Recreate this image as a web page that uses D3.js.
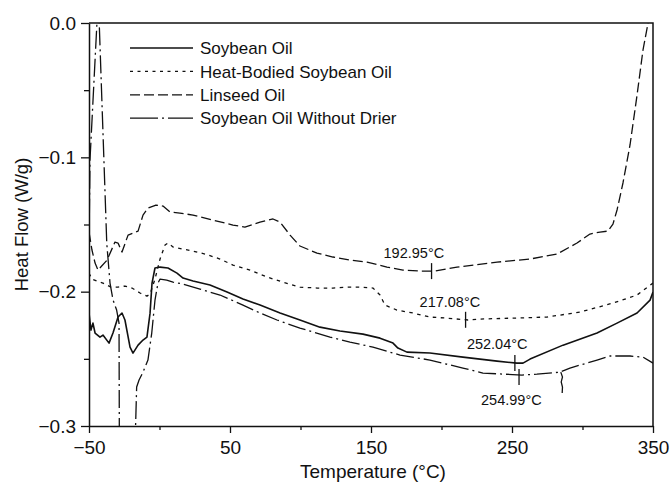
<!DOCTYPE html>
<html>
<head>
<meta charset="utf-8">
<script src="https://cdn.jsdelivr.net/npm/d3@7"></script>
<style>
  html, body { margin: 0; padding: 0; background: #fff; }
  svg { display: block; font-family: "Liberation Sans", Arial, Helvetica, sans-serif; }
</style>
</head>
<body>
<svg id="chart" width="672" height="483"></svg>
<script>
// DSC traces: [temperature (°C), heat flow (W/g)]
const soybeanOil = [
  [-50, -0.216], [-48.6, -0.2286], [-47.2, -0.2234], [-45.7, -0.2308], [-42.2, -0.2338],
  [-40.1, -0.2323], [-35.8, -0.2383], [-33.0, -0.2308], [-29.4, -0.2189], [-26.6, -0.2159],
  [-24.5, -0.2211], [-20.9, -0.2413], [-18.8, -0.2457], [-15.2, -0.2398], [-11.7, -0.2360],
  [-8.9, -0.2338], [-6.7, -0.216], [-5.3, -0.1936], [-3.2, -0.1824], [0.4, -0.1817],
  [6.0, -0.1824], [12.4, -0.1862], [16.7, -0.1899], [23.8, -0.1921], [35.8, -0.1951],
  [47.9, -0.2003], [59.2, -0.2055], [71.3, -0.2100], [85.5, -0.2159], [99.6, -0.2211],
  [113.8, -0.2264], [128.0, -0.2293], [144.3, -0.2316], [156.4, -0.2346], [165.6, -0.2383],
  [169.1, -0.2420], [175.5, -0.2450], [191.8, -0.2457], [215.2, -0.2487], [239.4, -0.2517],
  [253.5, -0.2532], [257.8, -0.2532], [262.8, -0.2502], [286.2, -0.2398], [310.3, -0.2308],
  [324.5, -0.2234], [338.7, -0.2159], [347.9, -0.2063], [350, -0.2003]
];

const heatBodiedSoybeanOil = [
  [-50, -0.1862], [-47.9, -0.1906], [-44.3, -0.1921], [-40.1, -0.1936], [-34.4, -0.1966],
  [-29.4, -0.1966], [-24.5, -0.1958], [-19.5, -0.1973], [-13.8, -0.2010], [-8.9, -0.2033],
  [-6.7, -0.2018], [-3.2, -0.1906], [0.4, -0.1757], [3.9, -0.1653], [6.0, -0.1638],
  [9.6, -0.1668], [16.7, -0.1683], [23.8, -0.1698], [32.3, -0.1720], [42.9, -0.1757],
  [52.1, -0.1802], [64.2, -0.1839], [76.2, -0.1891], [87.6, -0.1929], [99.6, -0.1966],
  [111.7, -0.1973], [123.0, -0.1973], [135.1, -0.1966], [142.2, -0.1966], [151.4, -0.1973],
  [156.4, -0.2025], [159.9, -0.2100], [168.4, -0.2137], [179.8, -0.2159], [191.8, -0.2189],
  [203.9, -0.2197], [218.8, -0.2211], [227.3, -0.2204], [250.7, -0.2197], [274.8, -0.2189],
  [298.2, -0.2152], [321.6, -0.2085], [338.7, -0.2025], [350, -0.1936]
];

const linseedOil = [
  [-50, -0.1556], [-47.9, -0.1690], [-45.7, -0.1787], [-43.6, -0.1839], [-37.2, -0.1765],
  [-31.6, -0.1631], [-29.4, -0.1638], [-26.6, -0.1705], [-22.3, -0.1579], [-15.2, -0.1549],
  [-11.7, -0.1430], [-8.2, -0.1378], [-2.5, -0.1355], [2.5, -0.1363], [7.4, -0.1407],
  [14.5, -0.1415], [23.8, -0.1430], [37.9, -0.1467], [52.1, -0.1504], [60.6, -0.1519],
  [71.3, -0.1482], [80.5, -0.1459], [85.5, -0.1482], [92.6, -0.1579], [99.6, -0.1660],
  [111.7, -0.1713], [123.0, -0.1742], [135.1, -0.1765], [147.2, -0.1780], [161.3, -0.1817],
  [172.7, -0.1839], [184.8, -0.1847], [195.4, -0.1847], [211.0, -0.1817], [239.4, -0.1780],
  [262.8, -0.1757], [282.0, -0.1720], [296.1, -0.1638], [305.3, -0.1571], [312.4, -0.1556],
  [318.1, -0.1549], [321.6, -0.1497], [324.5, -0.1392], [328.7, -0.1191], [333.7, -0.0908],
  [338.7, -0.0536], [342.9, -0.0201], [346.5, 0.0], [347.5, 0.006]
];

const soybeanOilWithoutDrier = [
  [-50, -0.165], [-49.3, -0.102], [-43.4, 0.02], [-37.4, -0.164], [-35.1, -0.1936],
  [-33.0, -0.2060], [-30.4, -0.2137], [-28.7, -0.2234], [-28.5, -0.3010], [-28.4, -0.32],
  [-17.5, -0.32], [-16.2, -0.2710], [-14.5, -0.2658], [-11.7, -0.2599], [-8.2, -0.2509],
  [-5.5, -0.2308], [-3.2, -0.2063], [-1.1, -0.1936], [0.4, -0.1906], [5.1, -0.1914],
  [9.6, -0.1929], [16.7, -0.1943], [28.7, -0.1981], [42.9, -0.2025], [59.2, -0.2100],
  [71.3, -0.2159], [83.3, -0.2211], [99.6, -0.2271], [120.9, -0.2338], [135.1, -0.2375],
  [151.4, -0.2413], [170.6, -0.2472], [191.8, -0.2509], [215.2, -0.2569], [229.4, -0.2606],
  [257.1, -0.2621], [267.7, -0.2614], [284.0, -0.2599], [291.1, -0.2569], [310.3, -0.2509],
  [319.5, -0.2479], [333.7, -0.2479], [342.9, -0.2487], [350, -0.2532]
];

// small step marker on the no-drier trace
const stepMark = [
  [284.6, -0.2599], [285.8, -0.2635], [284.9, -0.2672], [285.8, -0.2710], [285.6, -0.2755]
];

const seriesNames = [
  "Soybean Oil",
  "Heat-Bodied Soybean Oil",
  "Linseed Oil",
  "Soybean Oil Without Drier"
];

// transition temperatures (°C) and the trace each belongs to
const transitionTemps = [192.95, 217.08, 252.04, 254.99];
const transitionSeries = [2, 1, 0, 3];

const xMajorTicks = [-50, 50, 150, 250, 350];
const xMinorTicks = [0, 100, 200, 300];
const yMajorTicks = [0, -0.1, -0.2, -0.3];
const yMinorTicks = [-0.05, -0.15, -0.25];

// ---- drawing ----
const W = 672, H = 483;
const margin = { top: 23, right: 19, bottom: 57, left: 89 };
const series = [soybeanOil, heatBodiedSoybeanOil, linseedOil, soybeanOilWithoutDrier];
const dashes = [null, "3.5,4.5", "10,4", "18,4,2,4"];
const legendDashes = [null, "3,4.5", "10,4", "28,4,2,4"];
const widths = [1.6, 1.3, 1.3, 1.3];
const ink = "#111";
const FONT = '"Liberation Sans", Arial, Helvetica, sans-serif';

const svg = d3.select("#chart");
svg.append("rect").attr("width", W).attr("height", H).attr("fill", "#fff");

const x = d3.scaleLinear().domain([-50, 350]).range([margin.left, W - margin.right]);
const y = d3.scaleLinear().domain([-0.3, 0]).range([H - margin.bottom, margin.top]);

svg.append("clipPath").attr("id", "plot-clip")
  .append("rect")
  .attr("x", x(-50)).attr("y", y(0))
  .attr("width", x(350) - x(-50)).attr("height", y(-0.3) - y(0));

// frame (top and right edges)
svg.append("path")
  .attr("d", `M${x(-50)},${y(0)}H${x(350)}V${y(-0.3)}`)
  .attr("fill", "none").attr("stroke", ink).attr("stroke-width", 1.5);

function styleAxis(g, size) {
  g.attr("font-family", FONT).attr("font-size", size);
  g.selectAll(".domain").attr("stroke", ink).attr("stroke-width", 1.5);
  g.selectAll(".tick line").attr("stroke", ink).attr("stroke-width", 1.3);
  g.selectAll(".tick text").attr("fill", ink);
}

// x axis
const gx = svg.append("g").attr("transform", `translate(0,${y(-0.3)})`)
  .call(d3.axisBottom(x).tickValues(xMajorTicks).tickSize(7).tickSizeOuter(0)
    .tickPadding(8).tickFormat(d3.format("d")));
styleAxis(gx, 19);
const gxm = svg.append("g").attr("transform", `translate(0,${y(-0.3)})`)
  .call(d3.axisBottom(x).tickValues(xMinorTicks).tickSize(4).tickFormat(""));
gxm.select(".domain").remove();
styleAxis(gxm, 19);

// y axis
const gy = svg.append("g").attr("transform", `translate(${x(-50)},0)`)
  .call(d3.axisLeft(y).tickValues(yMajorTicks).tickSize(8).tickSizeOuter(0)
    .tickPadding(5).tickFormat(d3.format(".1f")));
styleAxis(gy, 19);
const gym = svg.append("g").attr("transform", `translate(${x(-50)},0)`)
  .call(d3.axisLeft(y).tickValues(yMinorTicks).tickSize(5).tickFormat(""));
gym.select(".domain").remove();
styleAxis(gym, 19);

// axis titles
svg.append("text")
  .attr("x", (x(-50) + x(350)) / 2 + 2).attr("y", 478)
  .attr("text-anchor", "middle").attr("font-family", FONT).attr("font-size", 19).attr("fill", ink)
  .text("Temperature (°C)");
svg.append("text")
  .attr("transform", `translate(28,${(y(0) + y(-0.3)) / 2}) rotate(-90)`)
  .attr("text-anchor", "middle").attr("font-family", FONT).attr("font-size", 18.5).attr("fill", ink)
  .text("Heat Flow (W/g)");

// traces
const line = d3.line().x(d => x(d[0])).y(d => y(d[1]));
const plot = svg.append("g").attr("clip-path", "url(#plot-clip)");
series.forEach((s, i) => {
  plot.append("path")
    .attr("d", line(s))
    .attr("fill", "none")
    .attr("stroke", ink)
    .attr("stroke-width", widths[i])
    .attr("stroke-linejoin", "round")
    .attr("stroke-dasharray", dashes[i]);
});
plot.append("path").attr("d", line(stepMark))
  .attr("fill", "none").attr("stroke", ink).attr("stroke-width", 1.3);

// transition markers and labels
function valueAt(s, t) {
  const i = Math.max(1, Math.min(s.length - 1, d3.bisector(d => d[0]).left(s, t)));
  const a = s[i - 1], b = s[i];
  return a[1] + (b[1] - a[1]) * (t - a[0]) / (b[0] - a[0]);
}
const labelOffsets = [[-48, -13], [-46, -13], [-48, -14], [-38, 30]];
const tickSpans = [[-8, 8], [-8, 8], [-8, 8], [-6, 10]];
transitionTemps.forEach((t, k) => {
  const v = valueAt(series[transitionSeries[k]], t);
  const px = x(t), py = y(v);
  svg.append("line")
    .attr("x1", px).attr("x2", px)
    .attr("y1", py + tickSpans[k][0]).attr("y2", py + tickSpans[k][1])
    .attr("stroke", ink).attr("stroke-width", 1.3);
  svg.append("text")
    .attr("x", px + labelOffsets[k][0]).attr("y", py + labelOffsets[k][1])
    .attr("font-family", FONT).attr("font-size", 14.5).attr("fill", ink)
    .text(`${t.toFixed(2)}°C`);
});

// legend
const legend = svg.append("g");
seriesNames.forEach((name, i) => {
  const ly = 48 + i * 23.4;
  legend.append("line")
    .attr("x1", 130).attr("x2", 193).attr("y1", ly).attr("y2", ly)
    .attr("stroke", ink).attr("stroke-width", widths[i])
    .attr("stroke-dasharray", legendDashes[i]);
  legend.append("text")
    .attr("x", 200).attr("y", ly).attr("dy", "0.36em")
    .attr("font-family", FONT).attr("font-size", 17).attr("fill", ink)
    .text(name);
});
</script>
</body>
</html>
